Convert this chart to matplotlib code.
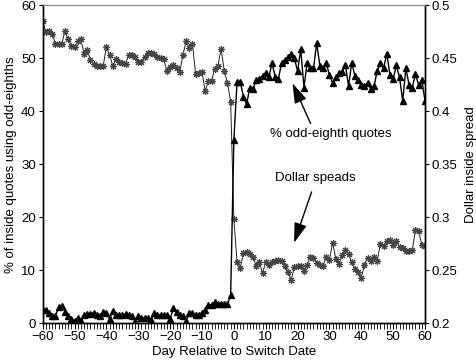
import matplotlib
matplotlib.use("Agg")
import matplotlib.pyplot as plt
import numpy as np

plt.rcParams['font.family'] = ['Liberation Sans', 'DejaVu Sans']

days = list(range(-60, 61))

# % of inside quotes using odd-eighths (left axis)
odd_eighth_pct = [
    2.5, 2.5, 1.9, 1.4, 1.4, 3.0, 3.3, 2.2, 1.3, 0.8,
    0.5, 1.0, 0.5, 1.6, 1.8, 1.8, 2.0, 1.6, 1.4, 2.2,
    1.9, 0.8, 2.4, 1.6, 1.6, 1.6, 1.8, 1.6, 1.3, 0.5,
    1.3, 1.0, 1.0, 1.0, 0.6, 1.9, 1.6, 1.6, 1.6, 1.6,
    0.8, 2.8, 2.2, 1.6, 1.3, 0.5, 2.0, 2.0, 1.6, 1.6,
    1.9, 2.5, 3.5, 3.5, 4.1, 3.6, 3.6, 3.6, 3.6, 5.3,
    34.5,
    45.6, 45.6, 42.8, 41.3, 44.5, 44.2, 45.9, 46.1, 46.7, 47.3,
    46.5, 49.1, 46.4, 46.2, 49.2, 49.7, 50.2, 50.9, 50.0, 47.6,
    51.7, 44.5, 49.2, 48.1, 48.1, 52.9, 48.6, 48.1, 49.1, 46.9,
    45.3, 46.5, 47.2, 47.5, 48.7, 44.8, 49.2, 46.7, 45.9, 45.0,
    44.8, 45.4, 44.2, 44.7, 47.7, 49.1, 48.1, 50.9, 46.9, 46.1,
    48.7, 46.4, 42.0, 48.1, 45.0, 44.5, 47.0, 45.0, 45.9, 42.0,
]

# Dollar inside spread (right axis)
dollar_spread = [
    0.485, 0.475, 0.476, 0.473, 0.464, 0.464, 0.464, 0.476, 0.468, 0.462,
    0.461, 0.466, 0.468, 0.454, 0.458, 0.448, 0.445, 0.443, 0.443, 0.443,
    0.461, 0.453, 0.443, 0.449, 0.447, 0.446, 0.445, 0.453, 0.453, 0.451,
    0.447, 0.447, 0.451, 0.455, 0.455, 0.454, 0.451, 0.450, 0.449, 0.438,
    0.442, 0.444, 0.441, 0.437, 0.453, 0.466, 0.460, 0.464, 0.435, 0.436,
    0.437, 0.419, 0.429, 0.429, 0.440, 0.443, 0.459, 0.438, 0.427, 0.409,
    0.298,
    0.258, 0.252, 0.266, 0.267, 0.265, 0.263, 0.254, 0.258, 0.247, 0.258,
    0.255, 0.258, 0.259, 0.260, 0.259, 0.254, 0.248, 0.241, 0.253, 0.254,
    0.254, 0.249, 0.255, 0.263, 0.262, 0.257, 0.255, 0.254, 0.263, 0.260,
    0.276, 0.261, 0.256, 0.264, 0.269, 0.265, 0.258, 0.251, 0.248, 0.243,
    0.255, 0.262, 0.259, 0.263, 0.259, 0.275, 0.273, 0.278, 0.279, 0.274,
    0.278, 0.272, 0.271, 0.268, 0.268, 0.269, 0.288, 0.287, 0.274, 0.273,
]

x_ticks = list(range(-60, 61, 10))
left_ticks = [0, 10, 20, 30, 40, 50, 60]
right_ticks = [0.2, 0.25, 0.3, 0.35, 0.4, 0.45, 0.5]
right_labels = ['0.2', '0.25', '0.3', '0.35', '0.4', '0.45', '0.5']

fig = plt.figure(figsize=(4.77, 3.6), dpi=100)
ax = fig.add_axes([0.0895, 0.102, 0.8015, 0.883])
ax2 = ax.twinx()

ax2.plot(days, dollar_spread, color='#222222', lw=0.7,
         marker=(8, 2, 0), markersize=5, markeredgecolor='#444444',
         markeredgewidth=0.8, zorder=2)
ax.plot(days, odd_eighth_pct, color='black', lw=1.0,
        marker='^', markersize=4.8, markerfacecolor='black',
        markeredgecolor='black', zorder=3)
ax.set_zorder(ax2.get_zorder() + 1)
ax.patch.set_visible(False)

ax.set_xlim(-60, 60)
ax.set_ylim(0, 60)
ax2.set_ylim(0.2, 0.5)
ax.set_xticks(x_ticks)
ax.set_xticks(days, minor=True)
ax.set_yticks(left_ticks)
ax2.set_yticks(right_ticks)
ax2.set_yticklabels(right_labels)

ax.tick_params(axis='x', which='major', direction='out', length=4, width=0.8,
               labelsize=9.5, pad=1.5)
ax.tick_params(axis='x', which='minor', direction='out', length=4, width=0.6)
ax.tick_params(axis='y', direction='out', length=3, width=0.8, labelsize=9.5, pad=2)
ax2.tick_params(axis='y', direction='out', length=3, width=0.8, labelsize=9.5, pad=2)

for a in (ax, ax2):
    a.spines['top'].set_color('#888888')
    a.spines['top'].set_linewidth(0.8)
    a.spines['left'].set_linewidth(1.0)
    a.spines['right'].set_linewidth(1.0)
    a.spines['bottom'].set_linewidth(1.0)

ax.set_xlabel('Day Relative to Switch Date', fontsize=9.5, labelpad=2)
ax.set_ylabel('% of inside quotes using odd-eighths', fontsize=9.5, labelpad=3)
ax2.set_ylabel('Dollar inside spread', fontsize=9.5, labelpad=5)

arrow_kw = dict(arrowstyle='-|>,head_length=1.1,head_width=0.35',
                color='black', lw=1.0, mutation_scale=11, shrinkA=0, shrinkB=0)
ax.annotate('', xy=(18.4, 45.3), xytext=(24.1, 37.7), arrowprops=arrow_kw)
ax.text(30.4, 35.7, '% odd-eighth quotes', fontsize=9.5, ha='center', va='center')
ax.annotate('', xy=(18.9, 15.2), xytext=(24.4, 24.8), arrowprops=arrow_kw)
ax.text(25.7, 27.5, 'Dollar speads', fontsize=9.5, ha='center', va='center')

fig.savefig('out.png', dpi=100)
